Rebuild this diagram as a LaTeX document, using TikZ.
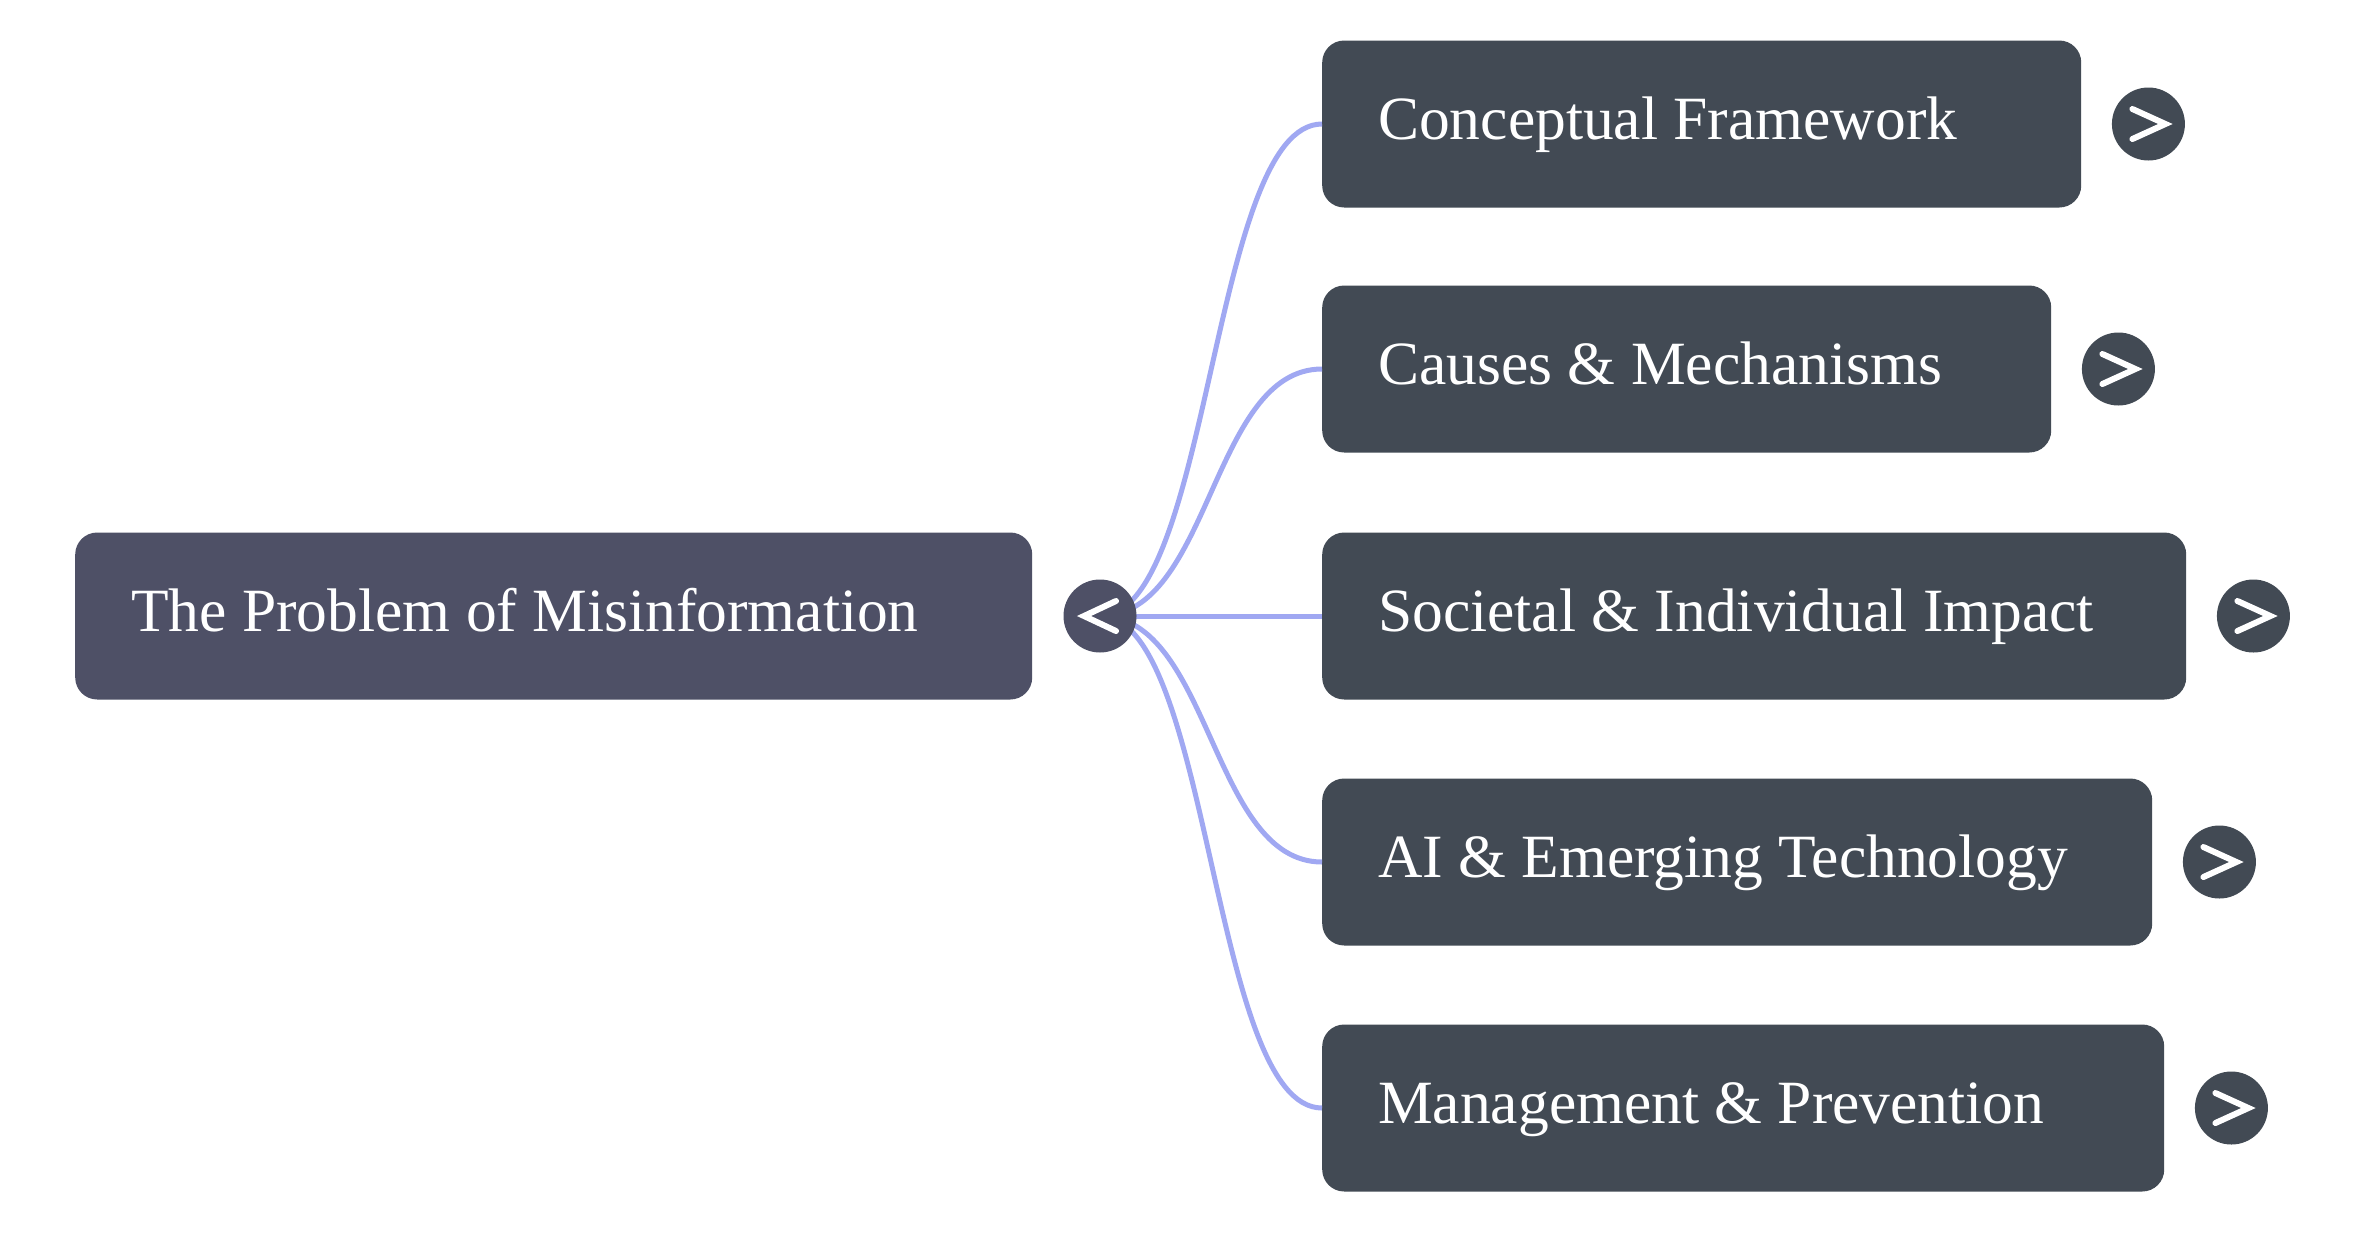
\documentclass[tikz,border=0pt]{standalone}
\usepackage{fontspec}
\setmainfont{Liberation Serif}
\definecolor{rootfill}{RGB}{78,80,102}
\definecolor{childfill}{RGB}{66,74,84}
\definecolor{linkcol}{RGB}{160,168,242}
\tikzset{
  box/.style={rectangle, rounded corners=22pt, minimum height=167pt, inner sep=0pt, anchor=west},
  rootbox/.style={box, fill=rootfill},
  childbox/.style={box, fill=childfill},
  lbl/.style={text=white, anchor=base west, inner sep=0pt, font=\fontsize{61.5}{70}\selectfont},
  tog/.style={circle, minimum size=73pt, inner sep=0pt},
  link/.style={draw=linkcol, line width=5pt},
  chev/.style={draw=white, line width=6pt, line cap=round, miter limit=10}
}
\begin{document}
\begin{tikzpicture}[x=1pt,y=-1pt]
\useasboundingbox[fill=white] (0,0) rectangle (2366,1232);

% root
\node[rootbox, minimum width=957pt] (root) at (75,616) {};
\node[lbl] (rtext) at ([xshift=56pt,yshift=-15pt]root.west) {The Problem of Misinformation};
\coordinate (rc) at (1100,616);

% children
\node[childbox, minimum width=759pt] (c1) at (1322,124) {};
\node[childbox, minimum width=729pt] (c2) at (1322,369) {};
\node[childbox, minimum width=864pt] (c3) at (1322,616) {};
\node[childbox, minimum width=830pt] (c4) at (1322,862) {};
\node[childbox, minimum width=842pt] (c5) at (1322,1108) {};

\node[lbl] (t1) at ([xshift=56pt,yshift=-15pt]c1.west) {Conceptual Framework};
\node[lbl] (t2) at ([xshift=56pt,yshift=-15pt]c2.west) {Causes \& Mechanisms};
\node[lbl] (t3) at ([xshift=56pt,yshift=-15pt]c3.west) {Societal \& Individual Impact};
\node[lbl] (t4) at ([xshift=56pt,yshift=-15pt]c4.west) {AI \& Emerging Technology};
\node[lbl] (t5) at ([xshift=56pt,yshift=-15pt]c5.west) {Management \& Prevention};

% links
\foreach \c in {c1,c2,c3,c4,c5}{
  \draw[link] (rc) .. controls ([xshift=111pt]rc) and ([xshift=-111pt]\c.west) .. (\c.west);
}

% root toggle
\node[tog, fill=rootfill] (rtog) at (rc) {};
\draw[chev] ([xshift=16pt,yshift=-15pt]rtog.center) -- ([xshift=-16pt]rtog.center) -- ([xshift=16pt,yshift=15pt]rtog.center);

% child toggles
\foreach \c in {c1,c2,c3,c4,c5}{
  \node[tog, fill=childfill] (g\c) at ([xshift=67pt]\c.east) {};
  \draw[chev] ([xshift=-16pt,yshift=-15pt]g\c.center) -- ([xshift=17pt]g\c.center) -- ([xshift=-16pt,yshift=15pt]g\c.center);
}
\end{tikzpicture}
\end{document}
